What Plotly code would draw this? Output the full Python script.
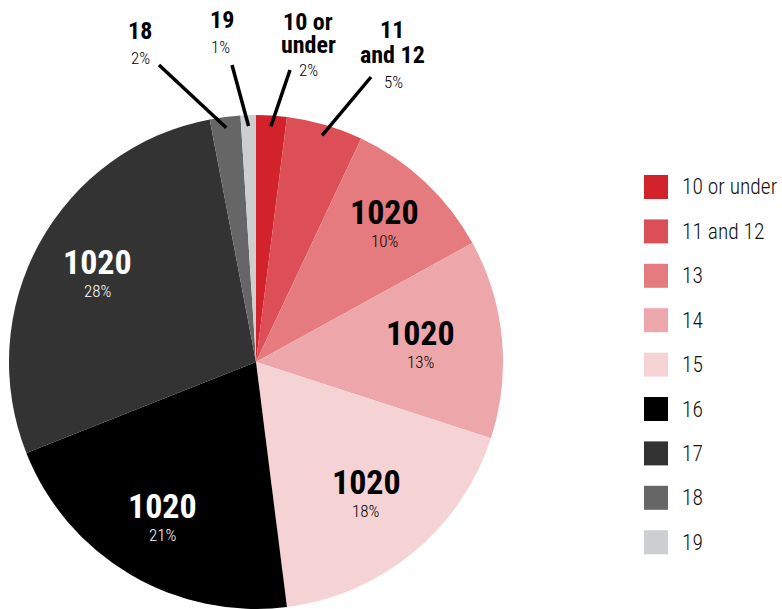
import math
import plotly.graph_objects as go

# Age groups and their share of respondents (%)
categories = ["10 or under", "11 and 12", "13", "14", "15", "16", "17", "18", "19"]
shares = [2, 5, 10, 13, 18, 21, 28, 2, 1]
count_label = "1020"
colors = ["#d2232d", "#dc4f57", "#e57b7e", "#eda7ab", "#f5d3d5",
          "#000000", "#333333", "#666666", "#cdced0"]

W, H = 782, 609
CX, CY, R = 256, 363, 247          # pie centre / radius in pixels
NARROW = "Roboto Condensed, Liberation Sans Narrow, DejaVu Sans Condensed, Arial Narrow, sans-serif"

# radial position (fraction of radius) of the in-slice labels
inner_radius = {"13": 0.76, "14": 0.67, "15": 0.70, "16": 0.74, "17": 0.73}


def px(x, y):
    return x / W, 1 - y / H


def polar(frac, rho):
    a = 2 * math.pi * frac
    return CX + rho * math.sin(a), CY - rho * math.cos(a)


def label(x, y, text, size, color="#000000", xanchor="center", weight="normal"):
    ax, ay = px(x, y)
    return dict(x=ax, y=ay, xref="paper", yref="paper", showarrow=False,
                xanchor=xanchor, yanchor="middle", text=text,
                font=dict(family=NARROW, size=size, color=color, weight=weight))


fig = go.Figure(go.Pie(
    labels=categories,
    values=shares,
    sort=False,
    direction="clockwise",
    rotation=0,
    marker=dict(colors=colors, line=dict(width=0)),
    textinfo="none",
    hoverinfo="label+percent",
    domain=dict(x=[(CX - R) / W, (CX + R) / W], y=[0, 2 * R / H]),
    showlegend=False,
))

total = sum(shares)
mids = []
acc = 0
for v in shares:
    mids.append((acc + v / 2) / total)
    acc += v

annotations = []
shapes = []

# labels inside the larger slices
dark = {"#000000", "#333333", "#666666"}
for i, cat in enumerate(categories):
    if cat not in inner_radius:
        continue
    x, y = polar(mids[i], inner_radius[cat] * R)
    col = "#ffffff" if colors[i] in dark else "#000000"
    annotations.append(label(x, y - 14, "<b>%s</b>" % count_label, 34, col))
    annotations.append(label(x, y + 15, "%d%%" % round(100 * shares[i] / total), 17, col,
                             weight=300))

# callouts for the thin slices: title lines, percent line, leader start point
callouts = {
    "18": dict(lines=[("18", 140, 31)], pct=(140, 58), start=(159, 65)),
    "19": dict(lines=[("19", 222, 20)], pct=(220, 47), start=(232, 65)),
    "10 or under": dict(lines=[("10 or", 308, 22), ("under", 308, 45)], pct=(308, 70),
                        start=(290, 70)),
    "11 and 12": dict(lines=[("11", 392, 30), ("and 12", 392, 55)], pct=(393, 82),
                      start=(371, 77)),
}
for i, cat in enumerate(categories):
    if cat not in callouts:
        continue
    c = callouts[cat]
    for txt, x, y in c["lines"]:
        annotations.append(label(x, y, "<b>%s</b>" % txt, 24))
    annotations.append(label(c["pct"][0], c["pct"][1],
                             "%d%%" % round(100 * shares[i] / total), 17, weight=300))
    ex, ey = polar(mids[i], 0.96 * R)
    x0, y0 = px(*c["start"])
    x1, y1 = px(ex, ey)
    shapes.append(dict(type="line", xref="paper", yref="paper", x0=x0, y0=y0, x1=x1, y1=y1,
                       line=dict(color="#000000", width=3.5)))

# legend drawn as swatches + labels
for i, cat in enumerate(categories):
    yc = 187 + 44.4 * i
    x0, y0 = px(644, yc - 12)
    x1, y1 = px(668, yc + 12)
    shapes.append(dict(type="rect", xref="paper", yref="paper", x0=x0, y0=y1, x1=x1, y1=y0,
                       fillcolor=colors[i], line=dict(width=0)))
    annotations.append(label(680, yc, cat, 21.5, "#111111", xanchor="left", weight=300))

fig.update_layout(
    width=W, height=H,
    margin=dict(l=0, r=0, t=0, b=0),
    paper_bgcolor="#ffffff",
    plot_bgcolor="#ffffff",
    annotations=annotations,
    shapes=shapes,
)

fig.write_html("out.html")
